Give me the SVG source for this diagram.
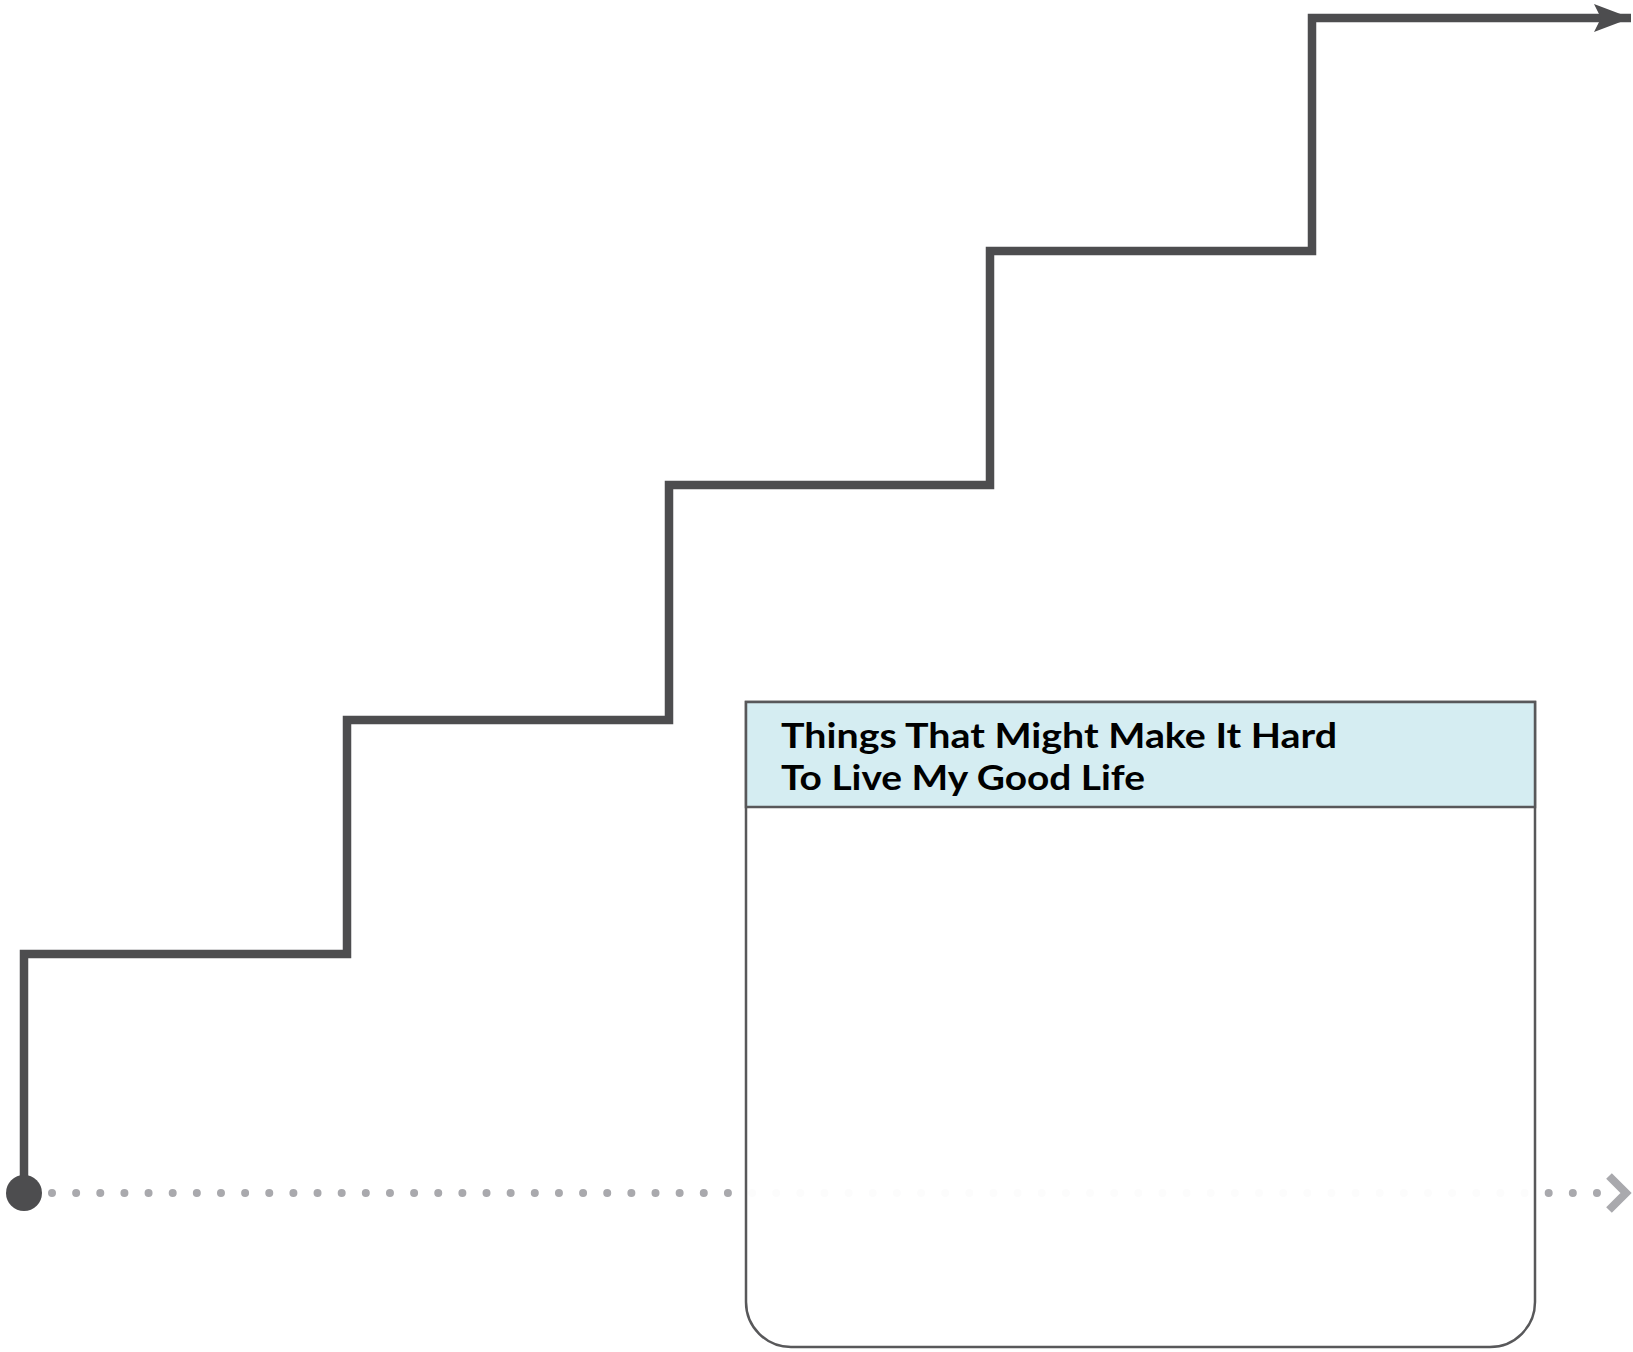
<svg xmlns="http://www.w3.org/2000/svg" width="1633" height="1352" viewBox="0 0 1633 1352">
<style>
.stair{fill:none;stroke:#4d4d4f;stroke-width:8.5;stroke-linejoin:miter}
.dots{fill:none;stroke:#a9a9ad;stroke-width:8;stroke-linecap:round;stroke-dasharray:0 24.14}
.chev{fill:none;stroke:#a9a9ad;stroke-width:8;stroke-linejoin:miter}
.box{fill:#ffffff;fill-opacity:0.96;stroke:#58585a;stroke-width:2.5}
.hdr{fill:#d5edf2;stroke:#58585a;stroke-width:2.5}
.t{font-family:Lato,"Open Sans","Liberation Sans",sans-serif;font-weight:700;font-size:34px;fill:#000}
</style>
<defs>
<marker id="ah" markerUnits="userSpaceOnUse" markerWidth="44" markerHeight="34" refX="37" refY="14" orient="auto">
<path d="M0,0 L37,14 L0,28 L7,14 Z" fill="#4d4d4f"/>
</marker>
</defs>
<g id="connectors">
<path class="stair" d="M24,1193 V954 H347 V720 H669 V485 H990 V251 H1312 V18 H1631" marker-end="url(#ah)"/>
<line class="dots" x1="52" y1="1193" x2="1597" y2="1193"/>
<polyline class="chev" points="1609,1176 1626,1193 1609,1210"/>
<circle cx="24" cy="1193" r="18" fill="#4d4d4f"/>
</g>
<g id="node-hard">
<path class="box" d="M746,702 H1535 V1302 A45,45 0 0 1 1490,1347 H791 A45,45 0 0 1 746,1302 Z"/>
<rect class="hdr" x="746" y="702" width="789" height="105"/>
<text class="t" x="781" y="748" textLength="556" lengthAdjust="spacingAndGlyphs">Things That Might Make It Hard</text>
<text class="t" x="781" y="790" textLength="364" lengthAdjust="spacingAndGlyphs">To Live My Good Life</text>
</g>
</svg>
